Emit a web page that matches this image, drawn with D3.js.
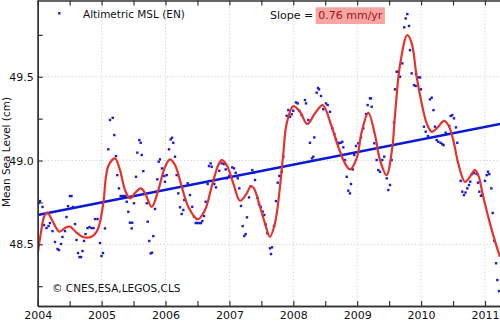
<!DOCTYPE html>
<html>
<head>
<meta charset="utf-8">
<script src="https://cdn.jsdelivr.net/npm/d3@7"></script>
<style>
  html, body { margin: 0; padding: 0; background: #fff; }
  svg { display: block; font-family: "DejaVu Sans", sans-serif; }
</style>
</head>
<body>
<svg id="chart" width="500" height="322"></svg>
<script>
// ---------- DATA ----------
const obsYears = [
  2004.000,2004.013,2004.036,2004.075,2004.099,2004.138,2004.169,2004.192,2004.232,2004.271,
  2004.310,2004.333,2004.365,2004.388,2004.427,2004.451,2004.474,2004.505,2004.529,2004.552,
  2004.584,2004.607,2004.631,2004.654,2004.678,2004.701,2004.725,2004.748,2004.779,2004.811,
  2004.842,2004.873,2004.897,2004.936,2004.975,2004.998,2005.022,
  2005.053,2005.105,2005.131,2005.174,2005.199,2005.225,2005.246,2005.272,2005.299,2005.324,
  2005.346,2005.366,2005.393,2005.418,2005.444,2005.471,2005.480,2005.507,2005.538,2005.559,
  2005.590,2005.612,2005.628,2005.653,2005.706,2005.721,2005.746,2005.768,2005.789,2005.809,
  2005.836,2005.872,2005.894,2005.914,2005.945,2005.981,2005.992,
  2006.019,2006.055,2006.081,2006.102,2006.122,2006.149,2006.175,2006.200,2006.227,2006.254,
  2006.279,2006.294,2006.347,2006.383,2006.419,2006.446,2006.473,2006.501,2006.529,2006.556,
  2006.576,2006.603,2006.629,2006.660,2006.681,2006.707,2006.723,2006.764,2006.790,2006.842,
  2006.879,2006.916,2006.942,2006.958,2006.998,
  2007.045,2007.072,2007.099,2007.130,2007.155,2007.182,2007.208,2007.233,2007.255,2007.275,
  2007.307,2007.327,2007.358,2007.385,2007.401,2007.437,2007.463,2007.490,2007.521,2007.546,
  2007.568,2007.593,2007.635,2007.651,2007.667,2007.698,2007.729,2007.756,2007.781,2007.818,
  2007.844,2007.897,2007.922,2007.948,2007.975,
  2008.000,2008.042,2008.069,2008.094,2008.131,2008.183,2008.199,2008.235,2008.261,2008.293,
  2008.313,2008.329,2008.366,2008.387,2008.402,2008.434,2008.469,2008.512,2008.538,2008.574,
  2008.610,2008.642,2008.668,2008.695,2008.715,2008.742,2008.767,2008.783,2008.809,2008.836,
  2008.861,2008.887,2008.903,2008.930,2008.955,2008.981,
  2009.017,2009.060,2009.096,2009.138,2009.164,2009.200,2009.216,2009.227,2009.268,2009.305,
  2009.330,2009.357,2009.393,2009.424,2009.462,2009.487,2009.513,2009.540,2009.576,2009.592,
  2009.618,2009.643,2009.670,2009.706,2009.737,2009.759,2009.784,2009.811,2009.826,2009.853,
  2009.889,2009.915,2009.920,2009.956,2009.983,2009.998,
  2010.045,2010.072,2010.108,2010.139,2010.166,2010.194,2010.217,2010.244,2010.269,2010.304,
  2010.332,2010.351,2010.385,2010.441,2010.463,2010.488,2010.515,2010.546,2010.567,2010.620,
  2010.645,2010.671,2010.695,2010.723,2010.750,2010.770,2010.792,2010.830,2010.870,2010.890,
  2010.911,2010.937,2010.958,
  2011.000,2011.027,2011.047,2011.067,2011.099,2011.121,2011.146,2011.173,2011.193,2011.220
];
const obsValues = [
  48.690,48.746,48.758,48.723,48.615,48.597,48.609,48.627,48.579,48.514,
  48.472,48.466,48.502,48.544,48.579,48.663,48.728,48.788,48.788,48.723,
  48.621,48.526,48.448,48.424,48.424,48.460,48.520,48.561,48.597,48.603,
  48.597,48.597,48.651,48.651,48.508,48.430,48.448,
  48.595,49.067,49.242,49.255,49.152,49.027,48.913,48.834,48.788,48.788,
  48.788,48.788,48.754,48.694,48.629,48.595,48.629,48.745,48.903,49.047,
  49.122,49.106,49.033,48.937,48.745,48.635,48.520,48.446,48.450,48.549,
  48.711,48.888,48.993,49.007,48.953,48.908,48.873,
  48.913,49.067,49.126,49.136,49.106,49.023,48.913,48.804,48.721,48.681,
  48.705,48.764,48.864,48.794,48.724,48.665,48.627,48.627,48.627,48.627,
  48.639,48.669,48.754,48.860,48.967,48.983,48.963,48.860,48.840,48.939,
  48.983,48.979,48.947,48.894,48.908,
  48.959,48.953,48.927,48.894,48.834,48.729,48.609,48.550,48.561,48.661,
  48.780,48.844,48.943,48.927,48.884,48.778,48.740,48.724,48.695,48.675,
  48.619,48.566,48.476,48.442,48.482,48.609,48.758,48.868,48.908,48.933,
  49.023,49.267,49.301,49.261,49.276,
  49.297,49.347,49.341,49.297,49.271,49.361,49.341,49.242,49.106,49.013,
  49.023,49.138,49.405,49.433,49.425,49.385,49.306,49.341,49.331,49.291,
  49.192,49.158,49.126,49.106,49.103,49.106,49.112,49.079,49.003,48.903,
  48.820,48.804,48.860,48.947,49.033,49.087,
  49.103,49.138,49.192,49.277,49.331,49.371,49.371,49.321,49.103,49.003,
  48.943,48.933,49.003,49.023,48.894,48.824,48.854,49.003,49.226,49.425,
  49.530,49.530,49.500,49.580,49.795,49.848,49.874,49.803,49.659,49.520,
  49.450,49.445,49.516,49.496,49.496,49.425,
  49.202,49.172,49.146,49.365,49.375,49.301,49.202,49.122,49.112,49.106,
  49.098,49.092,49.166,49.206,49.266,49.271,49.252,49.198,49.106,48.879,
  48.814,48.794,48.809,48.834,48.854,48.874,48.919,48.925,48.919,48.868,
  48.814,48.790,48.796,
  48.879,48.913,48.933,48.919,48.834,48.687,48.520,48.387,48.287,48.221
];
const fitYears = [
  2004.000,2004.052,2004.099,2004.150,2004.224,2004.338,2004.427,2004.505,2004.599,2004.709,
  2004.850,2004.928,2004.975,2005.027,2005.105,2005.210,2005.288,2005.366,2005.444,2005.522,
  2005.612,2005.679,2005.784,2005.887,2005.992,2006.070,2006.149,2006.254,2006.357,2006.504,
  2006.618,2006.723,2006.826,2006.880,2006.958,2007.061,2007.166,2007.271,2007.338,2007.385,
  2007.479,2007.557,2007.635,2007.713,2007.792,2007.844,2007.897,2008.000,2008.105,2008.219,
  2008.340,2008.460,2008.601,2008.704,2008.809,2008.887,2008.992,2009.071,2009.174,2009.279,
  2009.357,2009.459,2009.545,2009.592,2009.670,2009.784,2009.853,2009.931,2010.010,2010.088,
  2010.166,2010.269,2010.358,2010.426,2010.504,2010.582,2010.687,2010.765,2010.843,2010.895,
  2010.973,2011.078,2011.183,2011.235
];
const fitValues = [
  48.442,48.573,48.663,48.690,48.645,48.576,48.597,48.606,48.573,48.544,
  48.547,48.579,48.633,48.746,48.967,49.013,48.943,48.824,48.774,48.806,
  48.834,48.806,48.723,48.824,48.961,49.007,48.973,48.844,48.724,48.649,
  48.705,48.844,48.973,49.003,48.973,48.864,48.760,48.804,48.848,48.834,
  48.724,48.625,48.545,48.625,48.844,49.043,49.222,49.325,49.291,49.218,
  49.282,49.331,49.202,49.082,48.983,48.947,49.013,49.172,49.285,49.152,
  49.003,48.913,49.063,49.272,49.570,49.749,49.699,49.500,49.341,49.222,
  49.172,49.202,49.237,49.212,49.122,48.983,48.873,48.903,48.943,48.913,
  48.784,48.625,48.486,48.426
];
const trendYears = [2004.0, 2011.235];
const trendValues = [48.675, 49.218];
const xTickYears = [2004, 2005, 2006, 2007, 2008, 2009, 2010, 2011];
const xMinorYears = [2004.5, 2005.5, 2006.5, 2007.5, 2008.5, 2009.5, 2010.5];
const yLabelTicks = [48.5, 49.0, 49.5];
const yMinorTicks = [48.25, 48.75, 49.25, 49.75];
const legendLabel = "Altimetric MSL (EN)";
const slopeLabel = "Slope =";
const slopeValue = "0.76 mm/yr";
const creditLabel = "\u00A9 CNES,ESA,LEGOS,CLS";
const yAxisTitle = "Mean Sea Level (cm)";

// ---------- CHART ----------
const svg = d3.select("#chart");
const L = 37.7, R = 500, T = 0, B = 306;
const x = d3.scaleLinear().domain([2004, 2011.235]).range([L, R]);
const y = d3.scaleLinear().domain([48.132, 49.958]).range([B, T]);

svg.append("rect").attr("width", 500).attr("height", 322).attr("fill", "#fff");

svg.append("defs").append("clipPath").attr("id", "plotclip")
  .append("rect").attr("x", L).attr("y", T).attr("width", R - L).attr("height", B - T);

// grid
const grid = svg.append("g").attr("stroke", "#c4c4c4").attr("stroke-width", 0.8)
  .attr("stroke-dasharray", "1.2,2.2");
grid.selectAll("line.vg").data(xTickYears.slice(1)).enter().append("line")
  .attr("x1", d => x(d)).attr("x2", d => x(d)).attr("y1", T).attr("y2", B);
grid.selectAll("line.hg").data(yLabelTicks).enter().append("line")
  .attr("x1", L).attr("x2", R).attr("y1", d => y(d)).attr("y2", d => y(d));

const plot = svg.append("g").attr("clip-path", "url(#plotclip)");

// observations
plot.append("g").selectAll("rect").data(obsYears.map((t, i) => [t, obsValues[i]]))
  .enter().append("rect")
  .attr("x", d => x(d[0]) - 1.2).attr("y", d => y(d[1]) - 1.2)
  .attr("width", 2.4).attr("height", 2.4).attr("fill", "#1c1cd4");

// trend
plot.append("path")
  .datum(trendYears.map((t, i) => [t, trendValues[i]]))
  .attr("d", d3.line().x(d => x(d[0])).y(d => y(d[1])))
  .attr("fill", "none").attr("stroke", "#0a1ad6").attr("stroke-width", 2.4);

// smooth fit
plot.append("path")
  .datum(fitYears.map((t, i) => [t, fitValues[i]]))
  .attr("d", d3.line().x(d => x(d[0])).y(d => y(d[1])).curve(d3.curveCatmullRom.alpha(0.5)))
  .attr("fill", "none").attr("stroke", "#e5322c").attr("stroke-width", 2.2);

// axes
function styleAxis(g) {
  g.selectAll(".domain").attr("stroke", "#333").attr("stroke-width", 1.4);
  g.selectAll(".tick line").attr("stroke", "#333").attr("stroke-width", 1.2);
  g.selectAll(".tick text").attr("fill", "#111").style("font-family", "DejaVu Sans")
    .style("font-size", "11px");
}
const allX = xTickYears.concat(xMinorYears);
svg.append("g").attr("transform", `translate(0,${B})`)
  .call(d3.axisBottom(x).tickValues(xTickYears).tickSizeInner(-5).tickSizeOuter(0)
    .tickPadding(5.5).tickFormat(d3.format("d")))
  .call(styleAxis);
svg.append("g").attr("transform", `translate(0,${B})`)
  .call(d3.axisBottom(x).tickValues(xMinorYears).tickSizeInner(-5).tickSizeOuter(0)
    .tickFormat(""))
  .call(styleAxis);
svg.append("g").attr("transform", `translate(0,${T + 0.5})`)
  .call(d3.axisTop(x).tickValues(allX).tickSizeInner(-5).tickSizeOuter(0).tickFormat(""))
  .call(styleAxis);
svg.append("g").attr("transform", `translate(${L},0)`)
  .call(d3.axisLeft(y).tickValues(yLabelTicks).tickSizeInner(-5).tickSizeOuter(0)
    .tickPadding(4).tickFormat(d3.format(".1f")))
  .call(styleAxis);
svg.append("g").attr("transform", `translate(${L},0)`)
  .call(d3.axisLeft(y).tickValues(yMinorTicks).tickSizeInner(-5).tickSizeOuter(0).tickFormat(""))
  .call(styleAxis);

// y title
svg.append("text").attr("transform", "translate(9.5,152) rotate(-90)")
  .attr("text-anchor", "middle").attr("font-size", 10.5).attr("fill", "#111")
  .text(yAxisTitle);

// legend
svg.append("rect").attr("x", 59.3 - 1.2).attr("y", 13.3 - 1.2).attr("width", 2.4).attr("height", 2.4)
  .attr("fill", "#1c1cd4");
svg.append("text").attr("x", 83).attr("y", 17.5).attr("font-size", 10.5).attr("fill", "#111")
  .text(legendLabel);

// slope
const slopeG = svg.append("g");
const hl = slopeG.append("rect").attr("y", 7.3).attr("height", 16.7).attr("fill", "#f7a4a4");
const slopeText = slopeG.append("text").attr("x", 270).attr("y", 19).attr("font-size", 11)
  .attr("fill", "#111").text(slopeLabel);
const endX = 270 + slopeText.node().getComputedTextLength();
const valX = endX + 5;
const valText = slopeG.append("text").attr("x", valX).attr("y", 19).attr("font-size", 11)
  .attr("fill", "#9a1414").text(slopeValue);
hl.attr("x", valX - 2.5).attr("width", valText.node().getComputedTextLength() + 5);

// credit
svg.append("text").attr("x", 52).attr("y", 291.5).attr("font-size", 10.5).attr("fill", "#111")
  .text(creditLabel);
</script>
</body>
</html>
